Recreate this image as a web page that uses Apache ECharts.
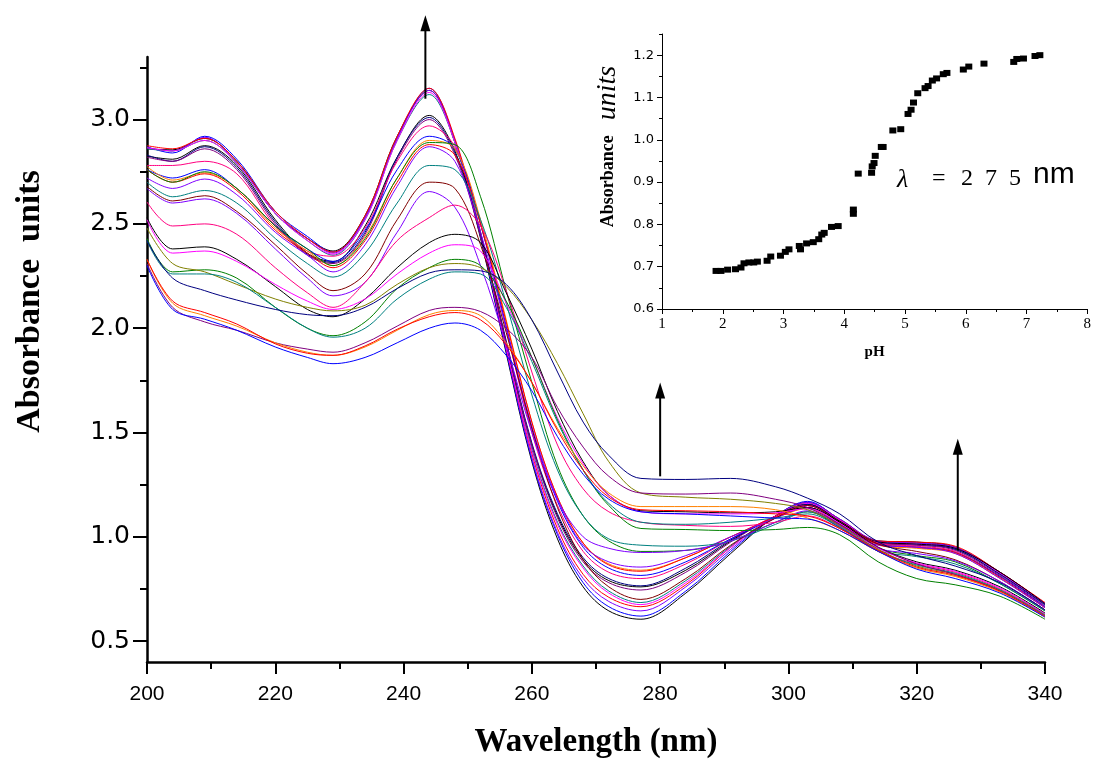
<!DOCTYPE html>
<html><head><meta charset="utf-8">
<script src="https://cdn.jsdelivr.net/npm/echarts@6/dist/echarts.min.js"></script>
<style>html,body{margin:0;padding:0;background:#fff}#c{width:1094px;height:764px}</style>
</head><body><div id="c"></div>
<script>
// ---- main chart data: absorbance spectra (wavelength grid in nm) ----
const wavelengths = [200, 204, 209, 214, 220, 225, 229, 234, 239, 244, 248, 252, 256, 260, 264, 268, 272, 277, 284, 291, 298, 303, 308, 314, 320, 326, 333, 340];

const top1 = [2.86, 2.855, 2.91, 2.80, 2.55, 2.43, 2.37, 2.54, 2.92, 3.14, 2.89, 2.43, 1.88, 1.36, 0.99, 0.76, 0.645, 0.605, 0.73, 0.92, 1.10, 1.165, 1.085, 0.98, 0.975, 0.95, 0.83, 0.68];
const top2 = [2.87, 2.84, 2.92, 2.81, 2.56, 2.44, 2.365, 2.53, 2.91, 3.15, 2.90, 2.44, 1.89, 1.37, 1.01, 0.78, 0.665, 0.62, 0.74, 0.93, 1.10, 1.17, 1.08, 0.975, 0.97, 0.945, 0.825, 0.675];
const top3 = [2.865, 2.85, 2.915, 2.79, 2.55, 2.43, 2.36, 2.53, 2.91, 3.14, 2.90, 2.45, 1.90, 1.38, 1.02, 0.80, 0.69, 0.645, 0.76, 0.94, 1.10, 1.165, 1.085, 0.98, 0.97, 0.95, 0.83, 0.68];
const top4 = [2.875, 2.86, 2.91, 2.80, 2.56, 2.43, 2.365, 2.54, 2.92, 3.15, 2.91, 2.46, 1.91, 1.40, 1.04, 0.82, 0.71, 0.665, 0.77, 0.95, 1.10, 1.16, 1.08, 0.98, 0.975, 0.955, 0.83, 0.685];
const top5 = [2.86, 2.85, 2.90, 2.79, 2.55, 2.42, 2.35, 2.52, 2.90, 3.12, 2.89, 2.46, 1.92, 1.42, 1.07, 0.86, 0.74, 0.685, 0.79, 0.955, 1.10, 1.16, 1.075, 0.975, 0.965, 0.94, 0.82, 0.675];
const top6 = [2.865, 2.85, 2.90, 2.79, 2.55, 2.42, 2.355, 2.52, 2.90, 3.13, 2.89, 2.45, 1.91, 1.41, 1.06, 0.85, 0.73, 0.675, 0.78, 0.95, 1.10, 1.16, 1.08, 0.975, 0.965, 0.945, 0.825, 0.68];
const high1 = [2.825, 2.81, 2.875, 2.78, 2.52, 2.36, 2.32, 2.49, 2.82, 3.02, 2.85, 2.45, 1.93, 1.44, 1.10, 0.89, 0.79, 0.76, 0.84, 0.98, 1.10, 1.155, 1.075, 0.975, 0.965, 0.945, 0.83, 0.68];
const high2 = [2.83, 2.80, 2.87, 2.77, 2.51, 2.355, 2.315, 2.46, 2.82, 3.01, 2.84, 2.45, 1.94, 1.45, 1.11, 0.90, 0.80, 0.765, 0.85, 0.985, 1.10, 1.155, 1.07, 0.97, 0.96, 0.94, 0.82, 0.675];
const high3 = [2.82, 2.80, 2.86, 2.76, 2.50, 2.35, 2.31, 2.45, 2.81, 3.00, 2.83, 2.44, 1.93, 1.44, 1.09, 0.88, 0.78, 0.745, 0.83, 0.975, 1.10, 1.15, 1.07, 0.97, 0.96, 0.935, 0.815, 0.67];
const high4 = [2.78, 2.78, 2.80, 2.74, 2.49, 2.37, 2.345, 2.48, 2.80, 2.97, 2.87, 2.50, 2.00, 1.50, 1.15, 0.93, 0.83, 0.80, 0.87, 0.99, 1.10, 1.15, 1.07, 0.97, 0.955, 0.93, 0.81, 0.665];
const mid1 = [2.76, 2.72, 2.76, 2.67, 2.49, 2.38, 2.32, 2.47, 2.76, 2.92, 2.86, 2.50, 2.01, 1.52, 1.17, 0.95, 0.85, 0.815, 0.88, 0.99, 1.09, 1.14, 1.06, 0.965, 0.95, 0.925, 0.81, 0.665];
const mid2 = [2.775, 2.71, 2.745, 2.67, 2.48, 2.37, 2.30, 2.44, 2.72, 2.90, 2.86, 2.52, 2.04, 1.55, 1.19, 0.97, 0.87, 0.84, 0.90, 1.00, 1.09, 1.135, 1.055, 0.96, 0.945, 0.92, 0.80, 0.66];
const mid3 = [2.76, 2.70, 2.74, 2.66, 2.47, 2.36, 2.29, 2.42, 2.70, 2.88, 2.83, 2.50, 2.03, 1.55, 1.19, 0.97, 0.865, 0.835, 0.90, 1.00, 1.095, 1.14, 1.06, 0.965, 0.95, 0.925, 0.805, 0.66];
const mid4 = [2.76, 2.70, 2.75, 2.67, 2.49, 2.38, 2.30, 2.43, 2.72, 2.89, 2.88, 2.63, 2.18, 1.74, 1.34, 1.10, 0.98, 0.93, 0.935, 0.98, 1.07, 1.12, 1.045, 0.945, 0.91, 0.88, 0.775, 0.645];
const mid5 = [2.72, 2.67, 2.715, 2.64, 2.46, 2.35, 2.27, 2.40, 2.68, 2.87, 2.80, 2.46, 2.00, 1.53, 1.18, 0.96, 0.88, 0.855, 0.91, 1.00, 1.09, 1.14, 1.06, 0.96, 0.95, 0.92, 0.80, 0.66];
const mid6 = [2.70, 2.63, 2.66, 2.60, 2.43, 2.31, 2.245, 2.36, 2.60, 2.78, 2.76, 2.52, 2.12, 1.68, 1.32, 1.10, 0.99, 0.96, 0.955, 0.98, 1.06, 1.12, 1.05, 0.935, 0.905, 0.87, 0.775, 0.645];
const mid7 = [2.68, 2.61, 2.635, 2.56, 2.40, 2.26, 2.18, 2.26, 2.52, 2.70, 2.67, 2.40, 1.98, 1.52, 1.14, 0.89, 0.76, 0.70, 0.80, 0.96, 1.09, 1.15, 1.07, 0.965, 0.93, 0.89, 0.785, 0.65];
const mid8 = [2.67, 2.60, 2.62, 2.55, 2.38, 2.24, 2.155, 2.22, 2.46, 2.655, 2.58, 2.30, 1.92, 1.50, 1.18, 1.00, 0.945, 0.925, 0.935, 0.98, 1.07, 1.125, 1.05, 0.945, 0.92, 0.885, 0.785, 0.65];
const mid9 = [2.605, 2.49, 2.50, 2.45, 2.29, 2.17, 2.10, 2.22, 2.42, 2.53, 2.59, 2.49, 2.18, 1.79, 1.44, 1.23, 1.12, 1.07, 1.055, 1.05, 1.07, 1.10, 1.04, 0.93, 0.87, 0.83, 0.75, 0.63];
const low1 = [2.53, 2.38, 2.39, 2.33, 2.20, 2.09, 2.055, 2.14, 2.29, 2.41, 2.45, 2.41, 2.17, 1.90, 1.60, 1.36, 1.20, 1.125, 1.12, 1.115, 1.12, 1.14, 1.07, 0.95, 0.88, 0.84, 0.76, 0.635];
const low2 = [2.52, 2.36, 2.37, 2.32, 2.21, 2.13, 2.09, 2.14, 2.26, 2.36, 2.40, 2.37, 2.12, 1.86, 1.57, 1.35, 1.20, 1.12, 1.11, 1.11, 1.115, 1.135, 1.065, 0.945, 0.875, 0.835, 0.755, 0.63];
const low3 = [2.43, 2.27, 2.28, 2.24, 2.10, 2.00, 1.964, 2.03, 2.19, 2.29, 2.33, 2.30, 2.13, 1.86, 1.56, 1.32, 1.15, 1.04, 1.035, 1.03, 1.035, 1.045, 1.01, 0.88, 0.80, 0.77, 0.715, 0.605];
const low4 = [2.48, 2.31, 2.27, 2.21, 2.14, 2.10, 2.083, 2.11, 2.21, 2.29, 2.31, 2.29, 2.20, 2.04, 1.83, 1.59, 1.36, 1.21, 1.19, 1.18, 1.16, 1.13, 1.055, 0.94, 0.86, 0.82, 0.745, 0.625];
const low5 = [2.42, 2.26, 2.26, 2.22, 2.10, 2.00, 1.957, 2.00, 2.14, 2.235, 2.27, 2.26, 2.10, 1.84, 1.55, 1.32, 1.16, 1.07, 1.06, 1.07, 1.09, 1.11, 1.045, 0.93, 0.865, 0.825, 0.745, 0.625];
const low6 = [2.42, 2.24, 2.18, 2.135, 2.09, 2.065, 2.06, 2.10, 2.19, 2.265, 2.28, 2.275, 2.21, 2.04, 1.79, 1.55, 1.39, 1.28, 1.275, 1.28, 1.24, 1.185, 1.11, 0.975, 0.91, 0.86, 0.78, 0.65];
const base1 = [2.31, 2.10, 2.03, 1.99, 1.93, 1.90, 1.885, 1.93, 2.01, 2.085, 2.10, 2.08, 2.00, 1.86, 1.62, 1.43, 1.29, 1.21, 1.205, 1.21, 1.18, 1.14, 1.06, 0.95, 0.87, 0.82, 0.74, 0.62];
const base2 = [2.33, 2.12, 2.06, 2.01, 1.93, 1.885, 1.87, 1.91, 1.99, 2.065, 2.085, 2.06, 1.93, 1.74, 1.52, 1.34, 1.21, 1.145, 1.145, 1.145, 1.13, 1.09, 1.03, 0.93, 0.85, 0.81, 0.735, 0.615];
const base3 = [2.33, 2.13, 2.075, 2.02, 1.925, 1.88, 1.87, 1.915, 1.995, 2.055, 2.075, 2.04, 1.92, 1.74, 1.51, 1.32, 1.19, 1.13, 1.125, 1.12, 1.11, 1.10, 1.04, 0.935, 0.855, 0.815, 0.74, 0.62];
const base4 = [2.30, 2.09, 2.043, 1.99, 1.91, 1.86, 1.83, 1.86, 1.93, 2.00, 2.025, 1.99, 1.87, 1.70, 1.48, 1.30, 1.18, 1.12, 1.11, 1.10, 1.09, 1.085, 1.03, 0.93, 0.845, 0.80, 0.73, 0.615];

const spectra = [top1, top2, top3, top4, top5, top6, high1, high2, high3, high4,
  mid1, mid2, mid3, mid4, mid5, mid6, mid7, mid8, mid9,
  low1, low2, low3, low4, low5, low6, base1, base2, base3, base4];

// main axis ticks
const xTicks = [200, 220, 240, 260, 280, 300, 320, 340];
const yTickLabels = [0.5, 1.0, 1.5, 2.0, 2.5, 3.0];
const yMinorTicks = [0.75, 1.25, 1.75, 2.25, 2.75, 3.25];

// ---- inset data: absorbance at 275 nm vs pH ----
const insetPH = [1.89, 1.97, 2.08, 2.21, 2.30, 2.35, 2.43, 2.51, 2.57, 2.73, 2.79, 2.95, 3.03, 3.09, 3.26, 3.28, 3.38, 3.49, 3.58, 3.63, 3.67, 3.79, 3.90, 4.15, 4.15, 4.23, 4.45, 4.46, 4.49, 4.51, 4.61, 4.64, 4.80, 4.93, 5.05, 5.10, 5.14, 5.21, 5.33, 5.38, 5.45, 5.52, 5.63, 5.69, 5.96, 6.05, 6.30, 6.79, 6.84, 6.95, 7.14, 7.22];
const insetA275 = [0.690, 0.690, 0.693, 0.694, 0.698, 0.708, 0.710, 0.710, 0.712, 0.714, 0.724, 0.726, 0.735, 0.741, 0.749, 0.741, 0.755, 0.758, 0.765, 0.776, 0.780, 0.794, 0.796, 0.835, 0.825, 0.920, 0.922, 0.937, 0.945, 0.962, 0.983, 0.983, 1.022, 1.025, 1.061, 1.071, 1.088, 1.110, 1.122, 1.127, 1.140, 1.145, 1.155, 1.158, 1.166, 1.173, 1.180, 1.184, 1.191, 1.192, 1.198, 1.200];
const insetYTicks = [0.6, 0.7, 0.8, 0.9, 1.0, 1.1, 1.2];
const insetYMinor = [0.65, 0.75, 0.85, 0.95, 1.05, 1.15, 1.25];

// arrows (data coordinates of main plot): wavelength, start absorbance, tip absorbance
const arrowWavelength = [243.4, 280.0, 326.4];
const arrowFrom = [3.10, 1.29, 0.935];
const arrowTo = [3.50, 1.74, 1.47];

// ---- styles ----
const spectraColors = ['#000000', '#0000FF', '#8000FF', '#FF0000', '#008080', '#FF00FF', '#000000', '#000080', '#800080', '#FF0080',
  '#0000FF', '#FF8000', '#FF0000', '#008000', '#8000FF', '#008080', '#800000', '#8000FF', '#FF0080',
  '#000000', '#FF00FF', '#008000', '#808000', '#008080', '#000080', '#800080', '#FF8000', '#FF0000', '#0000FF'];

const series = spectra.map((vals, i) => ({
  type: 'line', xAxisIndex: 0, yAxisIndex: 0,
  data: wavelengths.map((w, j) => [w, vals[j]]),
  symbol: 'none', showSymbol: false, smooth: 0.35, silent: true,
  lineStyle: { width: 1, color: spectraColors[i] }, itemStyle: { color: spectraColors[i] },
  animation: false, z: 2
}));
series.push({
  type: 'scatter', xAxisIndex: 1, yAxisIndex: 2,
  data: insetPH.map((p, i) => [p, insetA275[i]]),
  symbol: 'rect', symbolSize: [7, 6], itemStyle: { color: '#000', opacity: 1 }, silent: true, z: 5
});

const black = '#000';
const option = {
  animation: false,
  backgroundColor: '#ffffff',
  grid: [
    { left: 147, right: 49, top: 57, bottom: 96 },
    { left: 662, right: 3, top: 34, bottom: 455 }
  ],
  xAxis: [
    {
      gridIndex: 0, type: 'value', min: 200, max: 340, interval: 20,
      axisLine: { onZero: false, lineStyle: { color: black, width: 2.5 } },
      axisTick: { length: 12, lineStyle: { color: black, width: 2 } },
      minorTick: { show: true, splitNumber: 2, length: 7, lineStyle: { color: black, width: 2 } },
      splitLine: { show: false }, minorSplitLine: { show: false },
      axisLabel: { margin: 22, color: black, fontSize: 21, fontFamily: "'Liberation Sans Narrow', 'Liberation Sans', Arial, sans-serif" },
      name: 'Wavelength (nm)', nameLocation: 'middle', nameGap: 64,
      nameTextStyle: { color: black, fontFamily: "'Liberation Serif', 'Times New Roman', serif", fontWeight: 'bold', fontSize: 33 }
    },
    {
      gridIndex: 1, type: 'value', min: 1, max: 8, interval: 1,
      axisLine: { onZero: false, lineStyle: { color: black, width: 1 } },
      axisTick: { length: 5, lineStyle: { color: black, width: 1 } },
      minorTick: { show: true, splitNumber: 2, length: 3, lineStyle: { color: black, width: 1 } },
      splitLine: { show: false },
      axisLabel: { margin: 8, color: black, fontSize: 15, fontFamily: "'Liberation Serif', 'Times New Roman', serif" },
      name: 'pH', nameLocation: 'middle', nameGap: 36,
      nameTextStyle: { color: black, fontFamily: "'Liberation Serif', serif", fontWeight: 'bold', fontSize: 15 }
    }
  ],
  yAxis: [
    {
      gridIndex: 0, type: 'value', min: 0.4, max: 3.3, position: 'left',
      axisLine: { show: true, onZero: false, lineStyle: { color: black, width: 2.5 } },
      axisTick: { show: true, customValues: yTickLabels, length: 14, lineStyle: { color: black, width: 2 } },
      splitLine: { show: false },
      axisLabel: { customValues: yTickLabels, formatter: v => Number(v).toFixed(1), margin: 17, color: black, fontSize: 25, fontFamily: "'DejaVu Sans', sans-serif" },
      name: 'Absorbance  units', nameLocation: 'middle', nameGap: 100,
      nameTextStyle: { color: black, fontFamily: "'Liberation Serif', 'Times New Roman', serif", fontWeight: 'bold', fontSize: 34, padding: [0, 0, 0, 116] }
    },
    {
      gridIndex: 0, type: 'value', min: 0.4, max: 3.3, position: 'left',
      axisLine: { show: false },
      axisTick: { show: true, customValues: yMinorTicks, length: 7, lineStyle: { color: black, width: 2 } },
      axisLabel: { show: false, customValues: yMinorTicks },
      splitLine: { show: false }
    },
    {
      gridIndex: 1, type: 'value', min: 0.6, max: 1.25, position: 'left',
      axisLine: { show: true, onZero: false, lineStyle: { color: black, width: 1 } },
      axisTick: { show: true, customValues: insetYTicks, length: 5, lineStyle: { color: black, width: 1 } },
      splitLine: { show: false },
      axisLabel: { customValues: insetYTicks, margin: 8, color: black, fontSize: 13, fontFamily: "'DejaVu Sans', sans-serif", formatter: v => Number(v).toFixed(1) },
      name: '{a|Absorbance}   {b|units}', nameLocation: 'middle', nameGap: 40,
      nameTextStyle: {
        color: black, fontSize: 18, padding: [0, 0, 0, 50],
        rich: {
          a: { fontFamily: "'Liberation Serif', serif", fontWeight: 'bold', fontSize: 18, color: black },
          b: { fontFamily: "'Liberation Serif', serif", fontStyle: 'italic', fontSize: 28, color: black }
        }
      }
    },
    {
      gridIndex: 1, type: 'value', min: 0.6, max: 1.25, position: 'left',
      axisLine: { show: false },
      axisTick: { show: true, customValues: insetYMinor, length: 3, lineStyle: { color: black, width: 1 } },
      axisLabel: { show: false, customValues: insetYMinor },
      splitLine: { show: false }
    }
  ],
  series: series
};

const chart = echarts.init(document.getElementById('c'), null, { renderer: 'canvas' });
chart.setOption(option);

const graphics = [];
arrowWavelength.forEach((w, i) => {
  const b = chart.convertToPixel({ seriesIndex: 0 }, [w, arrowFrom[i]]);
  const t = chart.convertToPixel({ seriesIndex: 0 }, [w, arrowTo[i]]);
  graphics.push({ type: 'line', silent: true, z: 50, shape: { x1: b[0], y1: b[1], x2: t[0], y2: t[1] + 12 }, style: { stroke: '#000', lineWidth: 2 } });
  graphics.push({ type: 'polygon', silent: true, z: 50, shape: { points: [[t[0] - 5, t[1] + 16], [t[0] + 5, t[1] + 16], [t[0], t[1]]] }, style: { fill: '#000' } });
});
// lambda label in the inset
const txt = (s, x, y, size, family, fstyle) => ({
  type: 'text', x: x, y: y, z: 60, silent: true,
  style: { text: s, fill: '#000', fontSize: size, fontFamily: family, fontStyle: fstyle || 'normal',
    align: 'left', textAlign: 'left', verticalAlign: 'middle', textVerticalAlign: 'middle' }
});
graphics.push(txt('\u03bb', 897, 180, 26, "'Liberation Serif', serif", 'italic'));
graphics.push(txt('=', 932, 179, 24, "'Liberation Serif', serif"));
graphics.push(txt('2  7  5', 961, 179, 24, "'Liberation Serif', serif"));
graphics.push(txt('nm', 1033, 175, 30, "'Liberation Sans', Arial, sans-serif"));
chart.setOption({ graphic: graphics });
</script>
</body></html>
